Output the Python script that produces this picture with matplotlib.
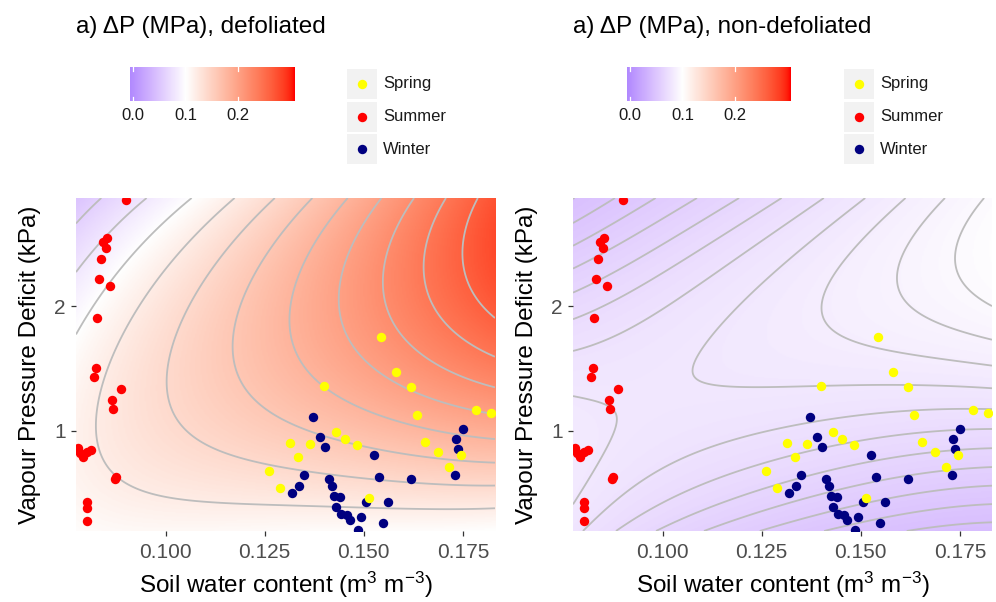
import numpy as np
import matplotlib
matplotlib.use("Agg")
import matplotlib.pyplot as plt
from matplotlib.colors import ListedColormap, Normalize
from matplotlib.patches import Rectangle

plt.rcParams["font.family"] = ["Liberation Sans", "DejaVu Sans"]
plt.rcParams["mathtext.fontset"] = "custom"
plt.rcParams["mathtext.rm"] = "Liberation Sans"
plt.rcParams["mathtext.it"] = "Liberation Sans:italic"
plt.rcParams["mathtext.bf"] = "Liberation Sans:bold"
plt.rcParams["mathtext.sf"] = "Liberation Sans"

# ---------------- data ----------------
titles = ["a) \u0394P (MPa), defoliated", "a) \u0394P (MPa), non-defoliated"]
x_label = r"Soil water content (m$^{3}$ m$^{-3}$)"
y_label = "Vapour Pressure Deficit (kPa)"
x_limits = [0.0774, 0.1831]
y_limits = [0.196, 2.866]
x_ticks = [0.100, 0.125, 0.150, 0.175]
x_tick_labels = ["0.100", "0.125", "0.150", "0.175"]
y_ticks = [1, 2]
y_tick_labels = ["1", "2"]
fill_limits = [-0.005, 0.3055]
fill_mid = 0.1
cbar_ticks = [0.0, 0.1, 0.2]
cbar_tick_labels = ["0.0", "0.1", "0.2"]

seasons = ["Spring", "Summer", "Winter"]
season_colors = {"Spring": "#FFFF00", "Summer": "#FF0000", "Winter": "#000080"}

summer_swc = [0.0899, 0.0843, 0.0853, 0.0849, 0.0838, 0.0832, 0.0861, 0.0828,
              0.0824, 0.0819, 0.0887, 0.0866, 0.0868, 0.0780, 0.0791, 0.0802,
              0.0811, 0.0784, 0.0872, 0.0876, 0.0802, 0.0802, 0.0802]
summer_vpd = [2.850, 2.516, 2.543, 2.468, 2.377, 2.214, 2.160, 1.904,
              1.500, 1.428, 1.337, 1.249, 1.177, 0.859, 0.790, 0.832,
              0.845, 0.821, 0.613, 0.626, 0.431, 0.383, 0.278]

spring_swc = [0.1543, 0.1581, 0.1400, 0.1619, 0.1635, 0.1782, 0.1822, 0.1431,
              0.1453, 0.1484, 0.1365, 0.1313, 0.1333, 0.1260, 0.1654, 0.1686,
              0.1745, 0.1716, 0.1289, 0.1513]
spring_vpd = [1.749, 1.468, 1.361, 1.348, 1.126, 1.166, 1.144, 0.987,
              0.931, 0.885, 0.893, 0.899, 0.787, 0.679, 0.912, 0.832,
              0.803, 0.711, 0.538, 0.463]

winter_swc = [0.1373, 0.1390, 0.1402, 0.1525, 0.1751, 0.1733, 0.1738, 0.1348,
              0.1336, 0.1319, 0.1411, 0.1420, 0.1425, 0.1440, 0.1430, 0.1443,
              0.1457, 0.1464, 0.1486, 0.1492, 0.1505, 0.1538, 0.1560, 0.1549,
              0.1619, 0.1730]
winter_vpd = [1.107, 0.950, 0.869, 0.808, 1.016, 0.931, 0.853, 0.645,
              0.559, 0.498, 0.615, 0.557, 0.476, 0.466, 0.386, 0.330,
              0.324, 0.284, 0.206, 0.308, 0.428, 0.629, 0.428, 0.257,
              0.610, 0.645]

# Delta-P surface (x, y, dP)
defol_x = [0.0774, 0.0774, 0.0834, 0.0774, 0.0867, 0.0960, 0.0774, 0.0926, 0.1078,
           0.1179, 0.1028, 0.0935, 0.0876, 0.0834, 0.0820, 0.0826, 0.0860, 0.0918, 0.1004, 0.1340, 0.1580, 0.1830,
           0.1276, 0.1180, 0.1105, 0.1045, 0.1019, 0.1053, 0.1129, 0.1255, 0.1423, 0.1580, 0.1830,
           0.1364, 0.1245, 0.1179, 0.1210, 0.1300, 0.1420, 0.1580, 0.1830,
           0.1457, 0.1355, 0.1314, 0.1345, 0.1420, 0.1580, 0.1830,
           0.1545, 0.1465, 0.1440, 0.1465, 0.1530, 0.1650, 0.1830,
           0.1629, 0.1570, 0.1549, 0.1580, 0.1660, 0.1830,
           0.1709, 0.1665, 0.1650, 0.1690, 0.1750, 0.1830,
           0.1789, 0.1747, 0.1770, 0.1830,
           0.1830, 0.1830,
           0.0774, 0.0774, 0.0774, 0.1050, 0.1300, 0.1830]
defol_y = [2.866, 2.660, 2.866, 2.235, 2.550, 2.866, 1.767, 2.320, 2.866,
           2.866, 2.556, 2.210, 1.810, 1.353, 0.980, 0.790, 0.631, 0.524, 0.471, 0.430, 0.388, 0.378,
           2.866, 2.550, 2.210, 1.810, 1.300, 1.060, 0.845, 0.711, 0.631, 0.605, 0.565,
           2.866, 2.300, 1.620, 1.300, 1.050, 0.900, 0.810, 0.751,
           2.866, 2.400, 1.890, 1.550, 1.300, 1.070, 0.939,
           2.866, 2.500, 2.080, 1.750, 1.500, 1.300, 1.140,
           2.866, 2.550, 2.210, 1.850, 1.580, 1.340,
           2.866, 2.600, 2.275, 1.950, 1.750, 1.580,
           2.866, 2.435, 2.150, 1.861,
           2.450, 2.866,
           0.196, 0.950, 0.550, 0.196, 0.196, 0.196]
defol_dp = [0.05, 0.06, 0.06, 0.08, 0.08, 0.08, 0.10, 0.10, 0.10,
            0.12, 0.12, 0.12, 0.12, 0.12, 0.12, 0.12, 0.12, 0.12, 0.12, 0.12, 0.12, 0.12,
            0.14, 0.14, 0.14, 0.14, 0.14, 0.14, 0.14, 0.14, 0.14, 0.14, 0.14,
            0.16, 0.16, 0.16, 0.16, 0.16, 0.16, 0.16, 0.16,
            0.18, 0.18, 0.18, 0.18, 0.18, 0.18, 0.18,
            0.20, 0.20, 0.20, 0.20, 0.20, 0.20, 0.20,
            0.22, 0.22, 0.22, 0.22, 0.22, 0.22,
            0.24, 0.24, 0.24, 0.24, 0.24, 0.24,
            0.26, 0.26, 0.26, 0.26,
            0.275, 0.271,
            0.104, 0.113, 0.108, 0.105, 0.106, 0.101]

nondef_x = [0.0774,
            0.0774, 0.0874,
            0.0774, 0.0883, 0.0992,
            0.0774, 0.0934, 0.1093,
            0.0774, 0.0984, 0.1194,
            0.0774, 0.1036, 0.1299,
            0.0774, 0.1018, 0.1295, 0.1404,
            0.0790, 0.0934, 0.1102, 0.1295, 0.1550, 0.1830,
            0.1505, 0.1270, 0.1130, 0.1068, 0.1177, 0.1430, 0.1830,
            0.0774, 0.0883, 0.0900, 0.0875, 0.0816, 0.0774,
            0.1610, 0.1463, 0.1388, 0.1564, 0.1690, 0.1830,
            0.1711, 0.1623, 0.1580, 0.1690, 0.1830,
            0.1817, 0.1766, 0.1737, 0.1830,
            0.1830,
            0.0875, 0.1080, 0.1295, 0.1550, 0.1830,
            0.0976, 0.1144, 0.1295, 0.1550, 0.1830,
            0.1102, 0.1295, 0.1550, 0.1830,
            0.1245, 0.1500, 0.1830,
            0.1400, 0.1600, 0.1830,
            0.1600, 0.1830,
            0.1830, 0.0774, 0.0774, 0.0970]
nondef_y = [2.866,
            2.663, 2.866,
            2.480, 2.670, 2.866,
            2.293, 2.580, 2.866,
            2.096, 2.480, 2.866,
            1.896, 2.380, 2.866,
            1.647, 1.967, 2.610, 2.866,
            0.196, 0.524, 0.845, 1.046, 1.120, 1.166,
            2.866, 2.235, 1.850, 1.485, 1.353, 1.334, 1.334,
            1.300, 1.260, 1.110, 0.925, 0.685, 0.540,
            2.866, 2.315, 1.944, 1.674, 1.607, 1.540,
            2.866, 2.450, 2.128, 1.834, 1.727,
            2.866, 2.583, 2.315, 2.008,
            2.600,
            0.196, 0.520, 0.818, 0.950, 1.006,
            0.196, 0.390, 0.578, 0.760, 0.864,
            0.196, 0.391, 0.600, 0.711,
            0.196, 0.410, 0.565,
            0.196, 0.320, 0.418,
            0.196, 0.270,
            0.196, 0.196, 0.920, 1.300]
nondef_dp = [0.045,
             0.050, 0.050,
             0.055, 0.055, 0.055,
             0.060, 0.060, 0.060,
             0.065, 0.065, 0.065,
             0.070, 0.070, 0.070,
             0.075, 0.075, 0.075, 0.075,
             0.075, 0.075, 0.075, 0.075, 0.075, 0.075,
             0.080, 0.080, 0.080, 0.080, 0.080, 0.080, 0.080,
             0.080, 0.080, 0.080, 0.080, 0.080, 0.080,
             0.085, 0.085, 0.085, 0.085, 0.085, 0.085,
             0.090, 0.090, 0.090, 0.090, 0.090,
             0.095, 0.095, 0.095, 0.095,
             0.099,
             0.070, 0.070, 0.070, 0.070, 0.070,
             0.065, 0.065, 0.065, 0.065, 0.065,
             0.060, 0.060, 0.060, 0.060,
             0.055, 0.055, 0.055,
             0.050, 0.050, 0.050,
             0.045, 0.045,
             0.043, 0.078, 0.083, 0.0785]

contour_levels = [np.arange(0.06, 0.30, 0.02), np.arange(0.040, 0.1001, 0.005)]
poly_degree = [4, 5]


# ---------------- helpers ----------------
def _srgb2lab(rgb):
    c = np.asarray(rgb, float)
    lin = np.where(c <= 0.04045, c / 12.92, ((c + 0.055) / 1.055) ** 2.4)
    M = np.array([[0.4124, 0.3576, 0.1805], [0.2126, 0.7152, 0.0722], [0.0193, 0.1192, 0.9505]])
    xyz = M @ lin / np.array([0.95047, 1.0, 1.08883])
    d = 6 / 29
    f = np.where(xyz > d ** 3, np.cbrt(xyz), xyz / (3 * d * d) + 4 / 29)
    return np.array([116 * f[1] - 16, 500 * (f[0] - f[1]), 200 * (f[1] - f[2])])


def _lab2srgb(lab):
    L, a, b = lab
    fy = (L + 16) / 116
    fx = fy + a / 500
    fz = fy - b / 200
    d = 6 / 29
    finv = lambda t: t ** 3 if t > d else 3 * d * d * (t - 4 / 29)
    xyz = np.array([finv(fx), finv(fy), finv(fz)]) * np.array([0.95047, 1.0, 1.08883])
    Minv = np.array([[3.2406, -1.5372, -0.4986], [-0.9689, 1.8758, 0.0415], [0.0557, -0.2040, 1.0570]])
    lin = np.clip(Minv @ xyz, 0, 1)
    return np.where(lin <= 0.0031308, 12.92 * lin, 1.055 * lin ** (1 / 2.4) - 0.055)


def div_lab_cmap(low, mid, high, n=256):
    l0, l1, l2 = _srgb2lab(low), _srgb2lab(mid), _srgb2lab(high)
    cols = []
    for s in np.linspace(0, 1, n):
        if s <= 0.5:
            lab = l0 + (l1 - l0) * (s / 0.5)
        else:
            lab = l1 + (l2 - l1) * ((s - 0.5) / 0.5)
        cols.append(np.clip(_lab2srgb(lab), 0, 1))
    return ListedColormap(cols)


cmap = div_lab_cmap((0, 0, 1), (1, 1, 1), (1, 0, 0))
half = max(fill_limits[1] - fill_mid, fill_mid - fill_limits[0])
norm = Normalize(vmin=fill_mid - half, vmax=fill_mid + half)


def fit_surface(xs, ys, zs, deg):
    xs, ys, zs = map(np.asarray, (xs, ys, zs))
    def uv(x, y):
        u = (x - x_limits[0]) / (x_limits[1] - x_limits[0]) * 2 - 1
        v = (y - y_limits[0]) / (y_limits[1] - y_limits[0]) * 2 - 1
        return u, v
    terms = [(i, j) for i in range(deg + 1) for j in range(deg + 1) if i + j <= deg]
    u, v = uv(xs, ys)
    A = np.stack([u ** i * v ** j for i, j in terms], axis=1)
    lam = 1e-3
    A2 = np.vstack([A, lam * np.eye(len(terms))])
    z2 = np.concatenate([zs, np.zeros(len(terms))])
    coef = np.linalg.lstsq(A2, z2, rcond=None)[0]
    def f(X, Y):
        U, V = uv(X, Y)
        return sum(c * U ** i * V ** j for c, (i, j) in zip(coef, terms))
    return f


W, H = 996, 602
fig = plt.figure(figsize=(W / 100, H / 100), dpi=100)


def fx(px):
    return px / W


def fy(py):
    return 1 - py / H


surfaces = [(defol_x, defol_y, defol_dp), (nondef_x, nondef_y, nondef_dp)]
panel_left = [76, 573]
panel_top, panel_bot, panel_w = 198, 531, 419

gx = np.linspace(x_limits[0], x_limits[1], 300)
gy = np.linspace(y_limits[0], y_limits[1], 300)
GX, GY = np.meshgrid(gx, gy)

for k in range(2):
    pl = panel_left[k]
    ax = fig.add_axes([fx(pl), fy(panel_bot), panel_w / W, (panel_bot - panel_top) / H])
    f = fit_surface(*surfaces[k], poly_degree[k])
    Z = f(GX, GY)
    ax.imshow(Z, extent=[x_limits[0], x_limits[1], y_limits[0], y_limits[1]], origin="lower",
              aspect="auto", cmap=cmap, norm=norm, interpolation="bilinear", zorder=0)
    ax.contour(GX, GY, Z, levels=contour_levels[k], colors="#bdbdbd", linewidths=1.3, zorder=1)
    ax.scatter(winter_swc, winter_vpd, s=46, color=season_colors["Winter"], linewidths=0, zorder=3)
    ax.scatter(spring_swc, spring_vpd, s=46, color=season_colors["Spring"], linewidths=0, zorder=3)
    ax.scatter(summer_swc, summer_vpd, s=46, color=season_colors["Summer"], linewidths=0, zorder=3)
    ax.set_xlim(x_limits)
    ax.set_ylim(y_limits)
    ax.set_xticks(x_ticks)
    ax.set_xticklabels(x_tick_labels)
    ax.set_yticks(y_ticks)
    ax.set_yticklabels(y_tick_labels)
    for s in ax.spines.values():
        s.set_visible(False)
    ax.tick_params(axis="both", length=3.8, width=0.9, color="#333333", labelsize=15,
                   labelcolor="#4d4d4d")
    ax.tick_params(axis="x", pad=4.5)
    ax.tick_params(axis="y", pad=3.5)

    # titles and axis labels
    fig.text(fx(pl), fy(33), titles[k], fontsize=17.5, color="black", va="baseline", ha="left")
    fig.text(fx(pl + panel_w / 2), fy(585), x_label, fontsize=17.5, ha="center", va="center")
    fig.text(fx(pl - 46), fy((panel_top + panel_bot) / 2), y_label, fontsize=17.5,
             rotation=90, ha="center", va="center")

    # colour bar
    cb_left = 130 + (pl - 76)
    cax = fig.add_axes([fx(cb_left), fy(101), 164 / W, 34 / H])
    grad = np.linspace(fill_limits[0], fill_limits[1], 400)[None, :]
    cax.imshow(grad, extent=[fill_limits[0], fill_limits[1], 0, 1], aspect="auto",
               cmap=cmap, norm=norm, interpolation="bilinear")
    for t in cbar_ticks:
        cax.plot([t, t], [0, 0.12], color="white", lw=0.9)
        cax.plot([t, t], [0.88, 1], color="white", lw=0.9)
    cax.set_xlim(fill_limits)
    cax.set_ylim(0, 1)
    cax.set_yticks([])
    cax.set_xticks(cbar_ticks)
    cax.set_xticklabels(cbar_tick_labels)
    cax.tick_params(axis="x", length=0, labelsize=12, labelcolor="#1a1a1a", pad=5)
    for s in cax.spines.values():
        s.set_visible(False)

    # legend
    lg_left = 346 + (pl - 76)
    lax = fig.add_axes([fx(lg_left), fy(166), 130 / W, 98 / H])
    lax.set_xlim(0, 130)
    lax.set_ylim(98, 0)
    lax.axis("off")
    for i, name in enumerate(seasons):
        top = 1 + i * 32.7
        lax.add_patch(Rectangle((0.5, top), 30, 30, facecolor="#f2f2f2", edgecolor="none"))
        lax.scatter([15.5], [top + 15], s=46, color=season_colors[name], linewidths=0)
        lax.text(37, top + 15, name, fontsize=12, color="#1a1a1a", va="center", ha="left")

fig.savefig("out.png", dpi=100)
